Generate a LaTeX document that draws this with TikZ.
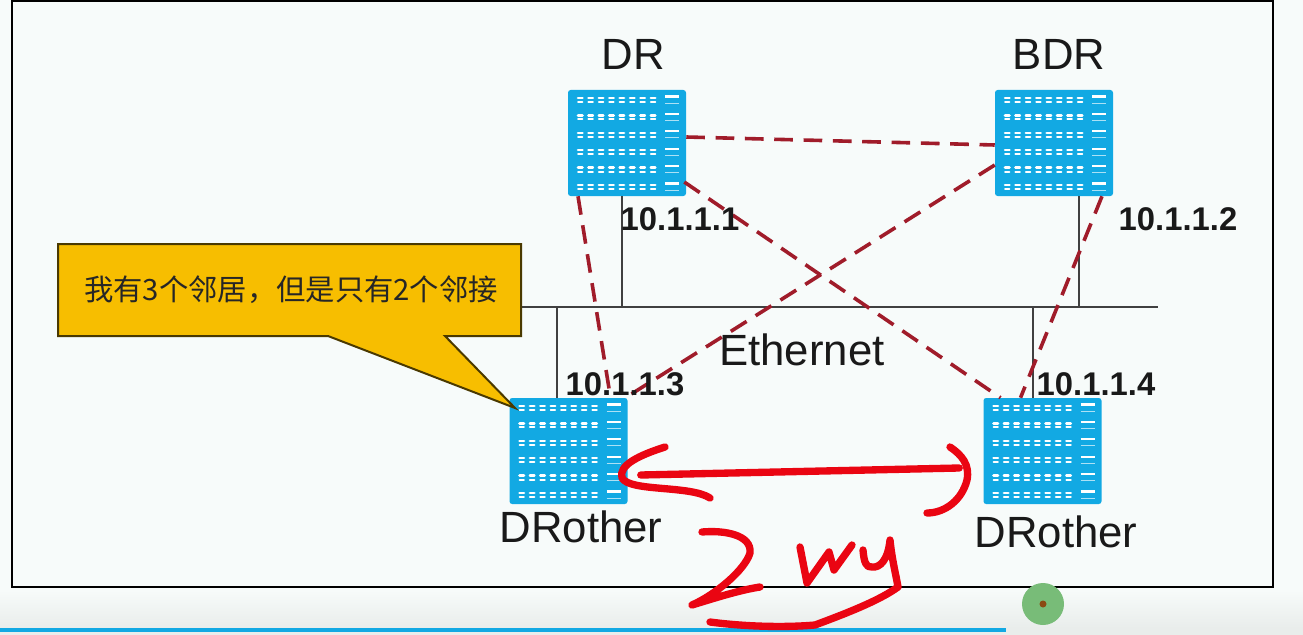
\documentclass[tikz,border=0pt]{standalone}
\usepackage{fontspec}
\setmainfont{Liberation Sans}
\newfontfamily\cjk{Noto Sans CJK SC}
\usepackage{xcolor}
\usepackage{tikz}
\definecolor{paper}{HTML}{F7FBFA}
\definecolor{strip}{HTML}{E9EDEB}
\definecolor{srvblue}{HTML}{12A9E3}
\definecolor{adjred}{HTML}{A01C2A}
\definecolor{bubblefill}{HTML}{F7BE00}
\definecolor{inkred}{HTML}{EA0512}
\definecolor{dotgreen}{HTML}{78BC78}
\definecolor{dotbrown}{HTML}{8B4A12}

\begin{document}
\begin{tikzpicture}[
  x=0.75pt, y=-0.75pt,
  server/.style ={rectangle, rounded corners=2pt, fill=srvblue,
                  minimum width=88.5pt, minimum height=79.5pt, inner sep=0pt,
                  path picture={
                    \foreach \r in {0,...,5} {
                      \foreach \c in {0,...,7} {
                        \draw[white, line width=1.9pt, line cap=round]
                          ([shift={(10+\c*10.4,8+\r*17.4)}]path picture bounding box.north west) -- +(4.5,0);
                        \draw[white, line width=1.4pt, line cap=round]
                          ([shift={(10+\c*10.4,12+\r*17.4)}]path picture bounding box.north west) -- +(4.5,0);
                      }
                      \draw[white, line width=1.6pt]
                        ([shift={(97,6.5+\r*17.4)}]path picture bounding box.north west) -- +(14,0);
                      \draw[white!65!srvblue, line width=.7pt]
                        ([shift={(97,13+\r*17.4)}]path picture bounding box.north west) -- +(14,0);
                    }}},
  wire/.style   ={draw=black!75, line width=1.1pt},
  adj/.style    ={draw=adjred, line width=2.7pt, dash pattern=on 14pt off 8pt},
  title/.style  ={font=\fontsize{32.8}{33}\selectfont, text=black!90},
  addr/.style   ={font=\fontsize{24.6}{25}\selectfont\bfseries, text=black!90, inner sep=0pt},
  bubble/.style ={rectangle, minimum width=347pt, minimum height=69pt, inner sep=0pt,
                  font=\cjk\fontsize{22}{24}\selectfont, text=black!85},
  ink/.style    ={draw=inkred, line width=5.5pt, line cap=round, line join=round}
]

% ---------- Canvas ----------
\useasboundingbox (0,0) rectangle (1303,635);
\fill[paper] (0,0) rectangle (1303,590);
\shade[top color=paper, bottom color=strip] (0,590) rectangle (1303,628);
\fill[strip] (0,628) rectangle (1303,635);
\fill[srvblue] (0,628) rectangle (1006,632);
\draw[black, line width=2.2pt] (12,1) rectangle (1273,587);

% ---------- Routers ----------
\node[server] (dr)   at (627,143)    {};
\node[server] (bdr)  at (1054,143)   {};
\node[server] (dro1) at (568.5,451)  {};
\node[server] (dro2) at (1042.5,451) {};

% ---------- Ethernet ----------
\coordinate (busl) at (450,307);
\coordinate (busr) at (1158,307);
\draw[wire] (busl) -- (busr);
\draw[wire] ([xshift=-3.75pt]dr.south)    -- ([xshift=-3.75pt]dr.south |- busl);
\draw[wire] ([xshift=18.75pt]bdr.south)   -- ([xshift=18.75pt]bdr.south |- busl);
\draw[wire] ([xshift=-8.6pt]dro1.north)   -- ([xshift=-8.6pt]dro1.north |- busl);
\draw[wire] ([xshift=-7pt]dro2.north)     -- ([xshift=-7pt]dro2.north |- busl);

% ---------- Adjacencies ----------
\draw[adj] ([yshift=4.5pt]dr.east)              -- ([yshift=-1.5pt]bdr.west);
\draw[adj] ([shift={(-2,39)}]dr.east)           -- ([xshift=-31.5pt]dro2.north);
\draw[adj] ([xshift=-36.75pt]dr.south)          -- ([xshift=31.5pt]dro1.north);
\draw[adj] ([yshift=-16.5pt]bdr.west)           -- ([xshift=42.75pt]dro1.north);
\draw[adj] ([xshift=36pt]bdr.south)             -- ([xshift=-16.5pt]dro2.north);

% ---------- Labels ----------
\node[title] (drname)   at (633,54)   {DR};
\node[title] (bdrname)  at (1059,54)  {BDR};
\node[title] (dro1name) at (581,527)  {DRother};
\node[title] (dro2name) at (1056,532) {DRother};
\node[title] (ethname)  at (802,350)  {Ethernet};
\node[addr] (ip1) at (680,219)  {10.1.1.1};
\node[addr] (ip2) at (1178,219) {10.1.1.2};
\node[addr] (ip3) at (625,384)  {10.1.1.3};
\node[addr] (ip4) at (1096,384) {10.1.1.4};

% ---------- Callout ----------
\coordinate (tip) at (515,408);
\draw[fill=bubblefill, draw=black!70!bubblefill, line width=1.5pt]
  (58,244) -- (521,244) -- (521,336) -- (445,336) -- (tip) -- (328,336) -- (58,336) -- cycle;
\node[bubble] (note) at (291,290) {我有3个邻居，但是只有2个邻接};

% ---------- Pen strokes ----------
\draw[ink] ([shift={(13,24)}]dro1.east) -- ([shift={(-24,17)}]dro2.west);
\draw[ink] (665,447) .. controls (640,455) and (618,465) .. (622,478)
           .. controls (630,492) and (690,485) .. (710,498);
\draw[ink] (950,447) .. controls (962,455) and (970,465) .. (967,480)
           .. controls (962,500) and (945,513) .. (927,513);
\draw[ink] (702,532) .. controls (725,530) and (752,535) .. (750,553)
           .. controls (745,570) and (715,595) .. (692,605)
           .. controls (715,598) and (740,590) .. (760,587);
\draw[ink] (800,547) -- (807,583) -- (829,552) -- (834,570) -- (852,545);
\draw[ink] (863,550) .. controls (864,562) and (866,568) .. (872,567)
           .. controls (880,568) and (888,560) .. (890,540)
           .. controls (892,560) and (896,575) .. (898,587)
           .. controls (880,600) and (850,612) .. (815,625)
           .. controls (780,628) and (740,626) .. (710,622);

% ---------- Pointer ----------
\fill[dotgreen] (1043,604) circle (21);
\fill[dotbrown] (1043,604) circle (3.5);

\end{tikzpicture}
\end{document}
